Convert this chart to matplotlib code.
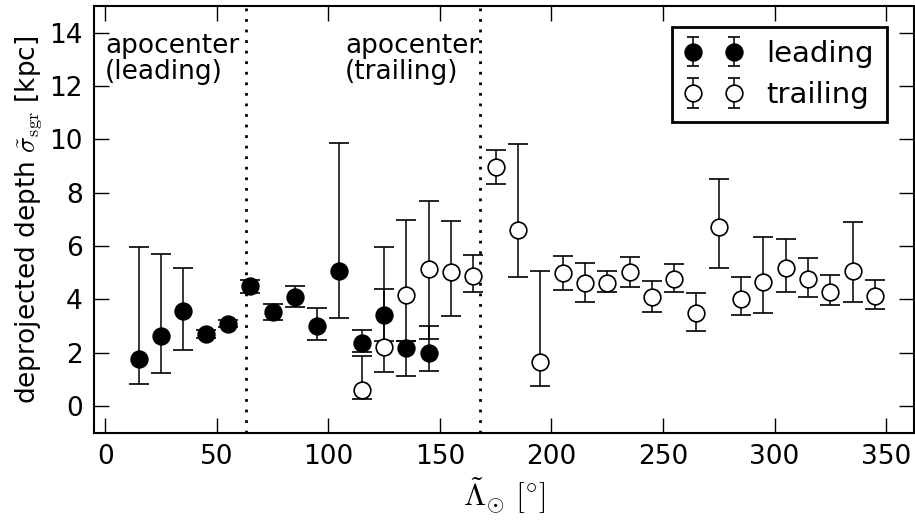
import matplotlib
matplotlib.use("Agg")
import matplotlib.pyplot as plt
from matplotlib.lines import Line2D

# Sagittarius stream depth vs. longitude, leading and trailing arms
lead_lon = [15, 25, 35, 45, 55, 65, 75, 85, 95, 105, 115, 125, 135, 145]
lead_depth = [1.78, 2.61, 3.55, 2.71, 3.08, 4.49, 3.51, 4.09, 3.01, 5.07, 2.38, 3.43, 2.16, 2.00]
lead_lo = [0.82, 1.24, 2.10, 2.55, 2.95, 4.22, 3.21, 3.70, 2.47, 3.31, 2.03, 2.45, 1.13, 1.33]
lead_hi = [5.97, 5.70, 5.18, 2.85, 3.22, 4.74, 3.81, 4.51, 3.66, 9.86, 2.85, 4.39, 2.45, 3.00]

trail_lon = [115, 125, 135, 145, 155, 165, 175, 185, 195, 205, 215, 225,
             235, 245, 255, 265, 275, 285, 295, 305, 315, 325, 335, 345]
trail_depth = [0.60, 2.22, 4.16, 5.15, 5.03, 4.88, 8.96, 6.59, 1.66, 4.97, 4.60, 4.60,
               5.03, 4.07, 4.78, 3.47, 6.72, 4.01, 4.66, 5.16, 4.78, 4.28, 5.07, 4.12]
trail_lo = [0.25, 1.29, 2.45, 2.53, 3.37, 4.28, 8.34, 4.83, 0.75, 4.34, 3.90, 4.26,
            4.48, 3.53, 4.26, 2.82, 5.19, 3.41, 3.47, 4.28, 4.09, 3.78, 3.91, 3.63]
trail_hi = [1.88, 5.97, 6.99, 7.68, 6.94, 5.68, 9.61, 9.84, 5.06, 5.63, 5.37, 5.06,
            5.57, 4.69, 5.34, 4.25, 8.53, 4.82, 6.32, 6.28, 5.56, 4.91, 6.89, 4.72]

apocenters = [63.2, 168.1]

FS = 19
plt.rcParams["font.family"] = "DejaVu Sans"
plt.rcParams["mathtext.fontset"] = "cm"
plt.rcParams["font.size"] = FS

fig = plt.figure(figsize=(9.15, 5.27), dpi=100)
ax = fig.add_axes([94 / 915, 1 - 432.7 / 527, 820 / 915, 426.7 / 527])


def asym_err(vals, lo, hi):
    return [[v - l for v, l in zip(vals, lo)], [h - v for v, h in zip(vals, hi)]]


common = dict(fmt="o", ms=12, mew=1.2, ecolor="k", elinewidth=1.1,
              capsize=7, capthick=1.1, mec="k")
ax.errorbar(lead_lon, lead_depth, yerr=asym_err(lead_depth, lead_lo, lead_hi),
            mfc="k", label="leading", **common)
ax.errorbar(trail_lon, trail_depth, yerr=asym_err(trail_depth, trail_lo, trail_hi),
            mfc="w", label="trailing", **common)

for lon in apocenters:
    ax.axvline(lon, color="k", lw=2, linestyle=(0, (1, 2.8)))

ax.text(0, 14.0, "apocenter\n(leading)", ha="left", va="top", linespacing=1.0)
ax.text(107.5, 14.0, "apocenter\n(trailing)", ha="left", va="top", linespacing=1.0)

ax.set_xlim(-5, 362.5)
ax.set_ylim(-1, 15)
ax.set_xticks(range(0, 351, 50))
ax.set_yticks(range(0, 15, 2))
ax.tick_params(direction="in", length=11, width=1, top=True, right=True, labelsize=FS, pad=8)
for sp in ax.spines.values():
    sp.set_linewidth(1.5)

ax.set_xlabel(r"$\tilde{\Lambda}_{\odot}\ [^{\circ}]$", fontsize=23, labelpad=4)
ax.set_ylabel(r"deprojected depth $\tilde{\sigma}_{\rm sgr}$ [kpc]", fontsize=FS, labelpad=4)

leg = ax.legend(loc="upper right", bbox_to_anchor=(0.967, 0.951), borderaxespad=0,
                numpoints=2, fancybox=False, framealpha=1, edgecolor="k",
                handlelength=2.0, handletextpad=0.8, borderpad=0.45,
                labelspacing=0.45, fontsize=21)
leg.get_frame().set_linewidth(2)
# narrower caps on the legend handles
for ln in leg.findobj(Line2D):
    if ln.get_marker() == "_":
        ln.set_markersize(8.5)

fig.savefig("out.png", dpi=100)
